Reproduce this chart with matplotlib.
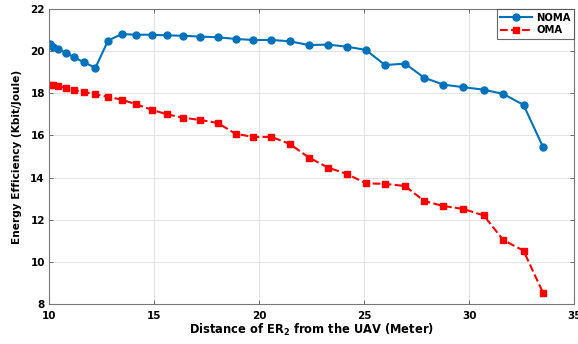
import matplotlib
matplotlib.use("Agg")
import matplotlib.pyplot as plt

plt.rcParams['font.family'] = ['DejaVu Sans']
plt.rcParams['font.weight'] = 'bold'
plt.rcParams['mathtext.default'] = 'bf'

distance = [10.03, 10.19, 10.43, 10.80, 11.18, 11.67, 12.21, 12.81, 13.46, 14.14,
            14.89, 15.62, 16.40, 17.21, 18.03, 18.88, 19.71, 20.59, 21.46, 22.37,
            23.29, 24.19, 25.08, 26.00, 26.95, 27.86, 28.78, 29.73, 30.70, 31.62,
            32.59, 33.52]

noma = [20.33, 20.21, 20.09, 19.93, 19.71, 19.47, 19.21, 20.50, 20.81, 20.78,
        20.78, 20.75, 20.73, 20.69, 20.66, 20.58, 20.53, 20.53, 20.47, 20.29,
        20.31, 20.21, 20.06, 19.34, 19.41, 18.74, 18.41, 18.29, 18.17, 17.97,
        17.45, 15.45]

oma = [18.39, 18.39, 18.35, 18.27, 18.16, 18.06, 17.95, 17.83, 17.70, 17.48,
       17.22, 17.00, 16.84, 16.73, 16.59, 16.08, 15.93, 15.93, 15.60, 14.95,
       14.47, 14.17, 13.73, 13.70, 13.60, 12.89, 12.65, 12.51, 12.20, 11.04,
       10.53, 8.53]

xticks = [10, 15, 20, 25, 30, 35]
yticks = [8, 10, 12, 14, 16, 18, 20, 22]

fig = plt.figure(figsize=(5.78, 3.44), dpi=100)
ax = fig.add_axes([0.0848, 0.1163, 0.9085, 0.8575])

ax.plot(distance, noma, '-o', color='#0072BD', lw=1.5, ms=5, label='NOMA')
ax.plot(distance, oma, '--s', color='#FF0000', lw=1.5, ms=4.5, label='OMA')

ax.set_xlim(10, 35)
ax.set_ylim(8, 22)
ax.set_xticks(xticks)
ax.set_yticks(yticks)
ax.tick_params(labelsize=7.5, direction='in', length=3, color='#555555', width=0.6,
               top=True, right=True, pad=3)
ax.tick_params(axis='x', pad=5)
for lab in ax.get_xticklabels() + ax.get_yticklabels():
    lab.set_fontweight('bold')
ax.grid(True, color='#e3e3e3', lw=0.7)
ax.set_axisbelow(True)
for s in ax.spines.values():
    s.set_color('#777777')
    s.set_linewidth(0.8)

ax.set_xlabel('Distance of ER$_2$ from the UAV (Meter)', fontsize=8.3,
              fontweight='bold', labelpad=1)
ax.set_ylabel('Energy Efficiency (Kbit/Joule)', fontsize=7.6, fontweight='bold', labelpad=6)

leg = ax.legend(loc='upper right', fontsize=7.2, frameon=True, fancybox=False,
                borderaxespad=0, handlelength=3.2, borderpad=0.35, labelspacing=0.25,
                handletextpad=0.4)
leg.get_frame().set_edgecolor('#444444')
leg.get_frame().set_linewidth(0.8)
for t in leg.get_texts():
    t.set_fontweight('bold')

fig.savefig('out.png', dpi=100)
